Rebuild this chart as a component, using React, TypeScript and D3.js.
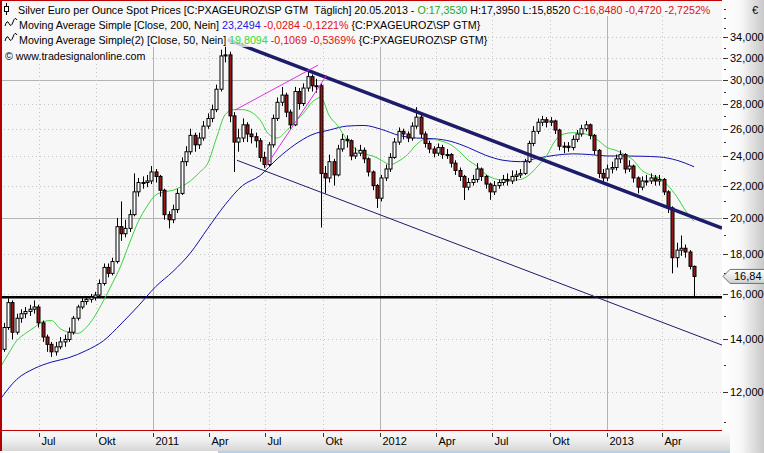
import React from 'react';
import * as d3 from 'd3';

const WIDTH = 764;
const HEIGHT = 453;
const PLOT_RIGHT = 722;
const PLOT_BOTTOM = 430;

// weekly candles (EUR per ounce), first week centred on this Wednesday
const FIRST_WEEK = '2010-04-28';
const FIRST_OPEN = 14.2;
const weeklyClose = [
  13.6, 14.5, 15.6, 14.3, 14.9, 15.1, 15.2, 15.3, 15.4, 14.7,
  14.1, 13.8, 13.5, 13.7, 13.9, 14.0, 14.3, 14.9, 15.4, 15.65,
  15.75, 15.85, 15.95, 16.5, 17.3, 17.0, 17.6, 19.5, 19.1, 19.4,
  20.2, 21.6, 22.2, 22.2, 22.3, 22.9, 22.6, 21.7, 20.2, 19.9,
  20.5, 21.5, 23.6, 24.3, 25.5, 24.8, 25.3, 26.2, 26.8, 27.5,
  29.2, 32.2, 32.3, 27.0, 25.0, 25.3, 26.3, 25.6, 25.4, 25.1,
  23.9, 23.4, 24.8, 26.8, 28.1, 28.7, 27.3, 26.3, 29.0, 28.0,
  29.3, 30.3, 29.5, 29.5, 22.8, 22.5, 23.6, 22.7, 24.5, 25.2,
  25.1, 24.0, 24.2, 24.4, 23.8, 22.9, 22.0, 21.2, 22.5, 23.1,
  23.9, 25.0, 25.8, 25.6, 25.3, 26.2, 26.9, 25.6, 24.9, 24.5,
  24.2, 24.6, 24.1, 24.1, 23.5, 23.0, 22.6, 21.9, 22.2, 22.4,
  23.1, 22.6, 22.1, 21.6, 22.0, 22.2, 22.4, 22.3, 22.6, 22.7,
  22.8, 23.6, 24.9, 25.8, 26.5, 26.7, 26.5, 26.6, 25.9, 24.7,
  24.7, 24.6, 25.2, 25.6, 26.0, 26.3, 25.5, 24.4, 22.8, 22.5,
  23.1, 23.2, 23.8, 24.1, 23.1, 23.3, 22.5, 21.9, 22.3, 22.3,
  22.5, 22.3, 22.4, 21.6, 20.6, 17.8, 18.2, 18.3, 18.1, 17.353,
  16.848,
];
const weeklyHigh = [
  14.4, 14.7, 15.8, 15.7, 15.1, 15.3, 15.4, 15.5, 15.7, 15.5,
  14.8, 14.2, 13.9, 13.9, 14.1, 14.2, 14.5, 15.0, 15.5, 15.8,
  15.9, 16.0, 16.1, 16.7, 17.5, 17.5, 17.8, 20.0, 21.0, 19.9,
  20.5, 22.8, 22.5, 22.6, 22.7, 23.3, 23.1, 22.7, 21.8, 20.4,
  20.8, 21.8, 23.9, 24.7, 26.0, 25.7, 25.7, 26.6, 27.2, 27.9,
  29.6, 32.8, 33.3, 32.6, 27.3, 26.0, 26.8, 26.5, 26.0, 25.7,
  25.3, 24.3, 25.0, 27.1, 28.5, 29.4, 28.9, 27.5, 29.4, 29.3,
  29.7, 30.9, 30.5, 30.1, 29.7, 23.3, 24.1, 23.8, 24.8, 25.6,
  25.5, 25.2, 24.6, 24.8, 24.6, 23.9, 23.0, 22.1, 22.7, 23.4,
  24.2, 25.3, 26.1, 26.0, 25.8, 26.5, 27.7, 27.1, 25.8, 25.1,
  24.7, 24.9, 24.8, 24.5, 24.2, 23.7, 23.2, 22.7, 22.5, 22.7,
  23.5, 23.2, 22.7, 22.2, 22.3, 22.4, 22.7, 22.8, 23.0, 23.0,
  23.1, 23.8, 25.1, 26.2, 26.8, 27.0, 26.9, 26.9, 26.7, 26.0,
  25.0, 25.0, 25.5, 25.9, 26.3, 26.6, 26.4, 25.6, 24.5, 23.1,
  23.4, 23.6, 24.1, 24.4, 24.2, 23.7, 23.4, 22.6, 22.6, 22.7,
  22.8, 22.7, 22.7, 22.5, 21.7, 20.7, 18.6, 19.0, 18.5, 18.2,
  17.395,
];
const weeklyLow = [
  13.4, 13.5, 14.4, 14.0, 14.2, 14.7, 14.9, 15.0, 15.1, 14.5,
  13.9, 13.5, 13.3, 13.35, 13.6, 13.7, 13.9, 14.2, 14.8, 15.3,
  15.5, 15.6, 15.7, 15.9, 16.4, 16.8, 16.9, 17.5, 18.7, 18.9,
  19.2, 20.1, 21.3, 21.8, 21.9, 22.1, 22.2, 21.3, 19.9, 19.4,
  19.7, 20.3, 21.4, 23.3, 24.1, 24.3, 24.5, 25.1, 26.0, 26.5,
  27.3, 29.0, 31.6, 26.5, 22.9, 24.3, 25.0, 25.0, 24.9, 24.6,
  23.6, 23.15, 23.3, 24.6, 26.6, 27.8, 26.9, 25.9, 26.2, 27.5,
  27.8, 29.0, 29.0, 28.9, 19.45, 21.5, 22.2, 22.0, 22.6, 24.3,
  24.6, 23.7, 23.8, 24.0, 23.5, 22.6, 21.7, 20.6, 21.0, 22.3,
  22.9, 23.8, 24.8, 25.2, 25.0, 25.1, 26.0, 25.3, 24.6, 24.2,
  23.9, 24.0, 23.8, 23.8, 23.2, 22.7, 22.3, 21.09, 21.7, 22.0,
  22.2, 22.3, 21.8, 21.1, 21.4, 21.8, 22.0, 22.0, 22.1, 22.3,
  22.5, 22.7, 23.5, 24.7, 25.6, 26.2, 26.1, 26.2, 25.6, 24.4,
  24.2, 24.3, 24.4, 25.0, 25.4, 25.8, 25.2, 24.1, 22.5, 22.2,
  22.3, 22.8, 23.0, 23.5, 22.8, 22.9, 22.2, 21.5, 21.7, 22.0,
  22.1, 22.0, 22.0, 21.4, 20.3, 17.0, 17.3, 17.9, 17.8, 17.2,
  15.852,
];

// moving averages sampled every N weeks from the first week
const SMA50_STEP = 2;
const sma50 = [
  12.85, 13.4, 13.95, 14.25, 14.5, 14.75, 14.8, 14.45, 14.3, 14.25,
  14.5, 15.0, 15.7, 16.5, 17.4, 18.6, 19.8, 20.7, 21.4, 21.6,
  21.7, 21.95, 22.3, 22.85, 23.5, 25.3, 27.1, 27.5, 27.5, 27.3,
  26.7, 25.6, 25.3, 25.8, 26.5, 27.2, 28.1, 28.5, 27.0, 26.2,
  25.2, 24.5, 24.15, 24.0, 23.7, 23.4, 23.65, 24.1, 24.8, 25.2,
  25.2, 25.05, 24.8, 24.3, 23.7, 23.3, 22.75, 22.45, 22.36, 22.36,
  22.4, 22.7, 23.3, 24.0, 25.1, 25.6, 25.7, 25.65, 25.5, 25.1,
  24.6, 24.4, 24.1, 23.7, 23.0, 22.7, 22.5, 22.0, 21.3, 20.45,
  19.809,
];
const SMA200_STEP = 4;
const sma200 = [
  11.7, 12.45, 12.85, 13.1, 13.27, 13.55, 13.95, 14.65, 15.45, 16.35,
  17.1, 18.05, 19.4, 20.8, 22.0, 22.65, 23.8, 24.8, 25.55, 25.9,
  26.2, 26.25, 25.95, 25.5, 25.3, 25.25, 25.05, 24.6, 24.05, 23.7,
  23.6, 23.85, 24.05, 24.15, 24.1, 24.0, 24.0, 23.98, 23.93, 23.7,
  23.249,
];

const priceTicks = [12, 14, 16, 18, 20, 22, 24, 26, 28, 30, 32, 34];
const solidPriceLines = [20, 30];
const monthTickDates = [
  '2010-07-01', '2010-10-01', '2011-01-01', '2011-04-01', '2011-07-01', '2011-10-01',
  '2012-01-01', '2012-04-01', '2012-07-01', '2012-10-01', '2013-01-01', '2013-04-01',
];
const monthTickLabels = ['Jul', 'Okt', '2011', 'Apr', 'Jul', 'Okt', '2012', 'Apr', 'Jul', 'Okt', '2013', 'Apr'];
const yearStarts = ['2011-01-01', '2012-01-01', '2013-01-01'];

const trendLines = [
  { from: ['2011-05-01', 33.77], to: ['2013-07-06', 19.42], color: '#1c1c6a', width: 3.5 },
  { from: ['2011-05-16', 23.7], to: ['2013-07-06', 13.77], color: '#1c1c6a', width: 1 },
  { from: ['2011-05-13', 27.47], to: ['2011-09-24', 31.35], color: '#e030e0', width: 1 },
  { from: ['2011-06-30', 23.17], to: ['2011-10-08', 30.45], color: '#e030e0', width: 1 },
];
const supportLevel = 15.852;
const lastClose = 16.848;
const lastCloseLabel = '16,84';

const parse = d3.timeParse('%Y-%m-%d');
const locale = d3.formatLocale({ decimal: ',', thousands: '.', grouping: [3], currency: ['', '€'] });
const fmt3 = locale.format('.3f');
const FONT = 'Liberation Sans, Arial, sans-serif';
const LEGEND_SIZE = 10.7;

export default function App() {
  const x = d3.scaleTime()
    .domain([parse('2010-04-29')!, parse('2013-07-06')!])
    .range([0, PLOT_RIGHT]);
  const y = d3.scaleLog().domain([10.73, 37.95]).range([PLOT_BOTTOM, 0]);

  const week0 = parse(FIRST_WEEK)!;
  const candles = weeklyClose.map((c, i) => ({
    date: d3.timeDay.offset(week0, 7 * i),
    open: i === 0 ? FIRST_OPEN : weeklyClose[i - 1],
    close: c,
    high: weeklyHigh[i],
    low: weeklyLow[i],
  }));

  const maLine = d3.line<{ date: Date; v: number }>()
    .x((d) => x(d.date))
    .y((d) => y(d.v))
    .curve(d3.curveMonotoneX);
  const sma50Pts = sma50.map((v, k) => ({ date: d3.timeDay.offset(week0, 7 * SMA50_STEP * k), v }));
  const sma200Pts = sma200.map((v, k) => ({ date: d3.timeDay.offset(week0, 7 * SMA200_STEP * k), v }));

  const bw = 3;
  const minor = d3.range(11, 38, 1).filter((v) => !priceTicks.includes(v));
  const ly = y(lastClose);

  return (
    <svg width={WIDTH} height={HEIGHT} style={{ position: 'absolute', left: 0, top: 0, display: 'block' }}>
      <defs>
        <clipPath id="plotClip">
          <rect x={0} y={0} width={PLOT_RIGHT} height={PLOT_BOTTOM} />
        </clipPath>
        <linearGradient id="axisGrad" x1="0" y1="0" x2="0" y2="1">
          <stop offset="0" stopColor="#fbfbfb" />
          <stop offset="0.5" stopColor="#ededed" />
          <stop offset="1" stopColor="#d6d6d6" />
        </linearGradient>
        <linearGradient id="rightGrad" x1="0" y1="0" x2="1" y2="0">
          <stop offset="0" stopColor="#ffffff" />
          <stop offset="0.45" stopColor="#f8f8f8" />
          <stop offset="1" stopColor="#c8c8c8" />
        </linearGradient>
        <linearGradient id="tagGrad" x1="0" y1="0" x2="0" y2="1">
          <stop offset="0" stopColor="#ffffff" />
          <stop offset="1" stopColor="#d0d0d0" />
        </linearGradient>
      </defs>

      <rect x={0} y={0} width={WIDTH} height={HEIGHT} fill="#ffffff" />
      <rect x={PLOT_RIGHT} y={0} width={WIDTH - PLOT_RIGHT} height={HEIGHT} fill="url(#rightGrad)" />
      <rect x={0} y={0} width={PLOT_RIGHT} height={PLOT_BOTTOM} fill="#f7f7f7" />

      {/* grid */}
      <g>
        {priceTicks.map((t) => (
          <line key={'h' + t} x1={0} x2={PLOT_RIGHT} y1={Math.round(y(t)) + 0.5} y2={Math.round(y(t)) + 0.5}
            stroke={solidPriceLines.includes(t) ? '#b4b4b4' : '#c4c4c4'}
            strokeDasharray={solidPriceLines.includes(t) ? undefined : '1,3'} />
        ))}
        {monthTickDates.map((d) => {
          const solid = yearStarts.includes(d);
          const xx = Math.round(x(parse(d)!)) + 0.5;
          return (
            <line key={'v' + d} x1={xx} x2={xx} y1={0} y2={PLOT_BOTTOM}
              stroke={solid ? '#b4b4b4' : '#c4c4c4'} strokeDasharray={solid ? undefined : '1,3'} />
          );
        })}
      </g>

      <g clipPath="url(#plotClip)">
        <line x1={0} x2={PLOT_RIGHT} y1={y(supportLevel)} y2={y(supportLevel)} stroke="#000" strokeWidth={2.5} />
        <path d={maLine(sma200Pts) || ''} fill="none" stroke="#1010b0" strokeWidth={1} />
        <path d={maLine(sma50Pts) || ''} fill="none" stroke="#3ad23a" strokeWidth={1} />
        {candles.map((c, i) => {
          const cx = Math.round(x(c.date)) + 0.5;
          const up = c.close >= c.open;
          const top = y(Math.max(c.open, c.close));
          const bot = y(Math.min(c.open, c.close));
          return (
            <g key={i}>
              <line x1={cx} x2={cx} y1={y(c.high)} y2={y(c.low)} stroke="#000" strokeWidth={1} />
              <rect x={cx - bw / 2} y={top} width={bw} height={Math.max(1, bot - top)}
                fill={up ? '#ffffff' : '#961616'} stroke="#000" strokeWidth={1} />
            </g>
          );
        })}
        {trendLines.map((t, i) => (
          <line key={'t' + i} x1={x(parse(t.from[0] as string)!)} y1={y(t.from[1] as number)}
            x2={x(parse(t.to[0] as string)!)} y2={y(t.to[1] as number)}
            stroke={t.color} strokeWidth={t.width} />
        ))}
      </g>

      {/* legend backgrounds */}
      <rect x={0} y={0} width={PLOT_RIGHT} height={16} fill="#f7f7f7" />
      <rect x={3} y={16} width={474} height={15} fill="#f7f7f7" opacity={0.8} />
      <rect x={3} y={31} width={482} height={16} fill="#f7f7f7" opacity={0.8} />
      <rect x={3} y={48} width={146} height={15} fill="#f7f7f7" opacity={0.8} />

      {/* frame */}
      <line x1={0} x2={PLOT_RIGHT} y1={0.5} y2={0.5} stroke="#c00000" strokeWidth={1} />
      <line x1={0} x2={PLOT_RIGHT} y1={PLOT_BOTTOM + 0.5} y2={PLOT_BOTTOM + 0.5} stroke="#c00000" strokeWidth={1} />
      <rect x={0} y={0} width={2} height={451} fill="#b00000" />

      {/* x axis bar */}
      <rect x={2} y={PLOT_BOTTOM + 1} width={PLOT_RIGHT + 6} height={20} fill="url(#axisGrad)" />
      <rect x={218} y={451} width={512} height={2} fill="#b8d0ea" />
      {monthTickDates.map((d, i) => {
        const xx = Math.round(x(parse(d)!)) + 0.5;
        return (
          <g key={'xt' + d}>
            <line x1={xx} x2={xx} y1={PLOT_BOTTOM + 3} y2={PLOT_BOTTOM + 7} stroke="#333" />
            <text x={xx + 2} y={PLOT_BOTTOM + 15} fontFamily={FONT} fontSize={11} fill="#000">{monthTickLabels[i]}</text>
          </g>
        );
      })}

      {/* y axis */}
      {minor.map((v) => (
        <line key={'m' + v} x1={PLOT_RIGHT + 2} x2={PLOT_RIGHT + 4} y1={Math.round(y(v)) + 0.5} y2={Math.round(y(v)) + 0.5} stroke="#333" />
      ))}
      {priceTicks.map((t) => (
        <g key={'yt' + t}>
          <line x1={PLOT_RIGHT + 1} x2={PLOT_RIGHT + 6} y1={Math.round(y(t)) + 0.5} y2={Math.round(y(t)) + 0.5} stroke="#333" />
          <text x={PLOT_RIGHT + 8} y={y(t) + 4} fontFamily={FONT} fontSize={11} fill="#000">{fmt3(t)}</text>
        </g>
      ))}
      <text x={752} y={14} fontFamily={FONT} fontSize={11} fill="#000">€</text>

      {/* last price tag */}
      <polygon
        points={`${PLOT_RIGHT + 1},${ly} ${PLOT_RIGHT + 8},${ly - 7} ${WIDTH + 2},${ly - 7} ${WIDTH + 2},${ly + 7} ${PLOT_RIGHT + 8},${ly + 7}`}
        fill="url(#tagGrad)" stroke="#707070" strokeWidth={1} />
      <text x={PLOT_RIGHT + 12} y={ly + 4} fontFamily={FONT} fontSize={11} fill="#000">{lastCloseLabel}</text>

      {/* legend */}
      <g fontFamily={FONT} fontSize={LEGEND_SIZE}>
        <line x1={6.5} x2={6.5} y1={3} y2={15} stroke="#000" />
        <rect x={4.5} y={6.5} width={4} height={5} fill="#fff" stroke="#000" />
        <text x={18} y={14} xmlSpace="preserve" style={{ whiteSpace: 'pre' }}>
          <tspan fill="#000">{'Silver Euro per Ounce Spot Prices [C:PXAGEUROZ\\SP GTM  Täglich] 20.05.2013 - '}</tspan>
          <tspan fill="#22aa22">O:17,3530</tspan>
          <tspan fill="#000">{' H:17,3950 L:15,8520 '}</tspan>
          <tspan fill="#e01010">C:16,8480 -0,4720 -2,7252%</tspan>
        </text>
        <path d="M5,26 Q7,19 9,23.5 T13,22 T17,20" fill="none" stroke="#000" />
        <text x={19} y={29} xmlSpace="preserve" style={{ whiteSpace: 'pre' }}>
          <tspan fill="#000">{'Moving Average Simple [Close, 200, Nein] '}</tspan>
          <tspan fill="#2020e0">23,2494</tspan>
          <tspan fill="#e01010">{' -0,0284 -0,1221% '}</tspan>
          <tspan fill="#000">{'{C:PXAGEUROZ\\SP GTM}'}</tspan>
        </text>
        <path d="M5,41 Q7,34 9,38.5 T13,37 T17,35" fill="none" stroke="#000" />
        <text x={19} y={44} xmlSpace="preserve" style={{ whiteSpace: 'pre' }}>
          <tspan fill="#000">{'Moving Average Simple(2) [Close, 50, Nein] '}</tspan>
          <tspan fill="#33dd33">19,8094</tspan>
          <tspan fill="#e01010">{' -0,1069 -0,5369% '}</tspan>
          <tspan fill="#000">{'{C:PXAGEUROZ\\SP GTM}'}</tspan>
        </text>
        <text x={5} y={60} fill="#000">{'© www.tradesignalonline.com'}</text>
      </g>
    </svg>
  );
}
